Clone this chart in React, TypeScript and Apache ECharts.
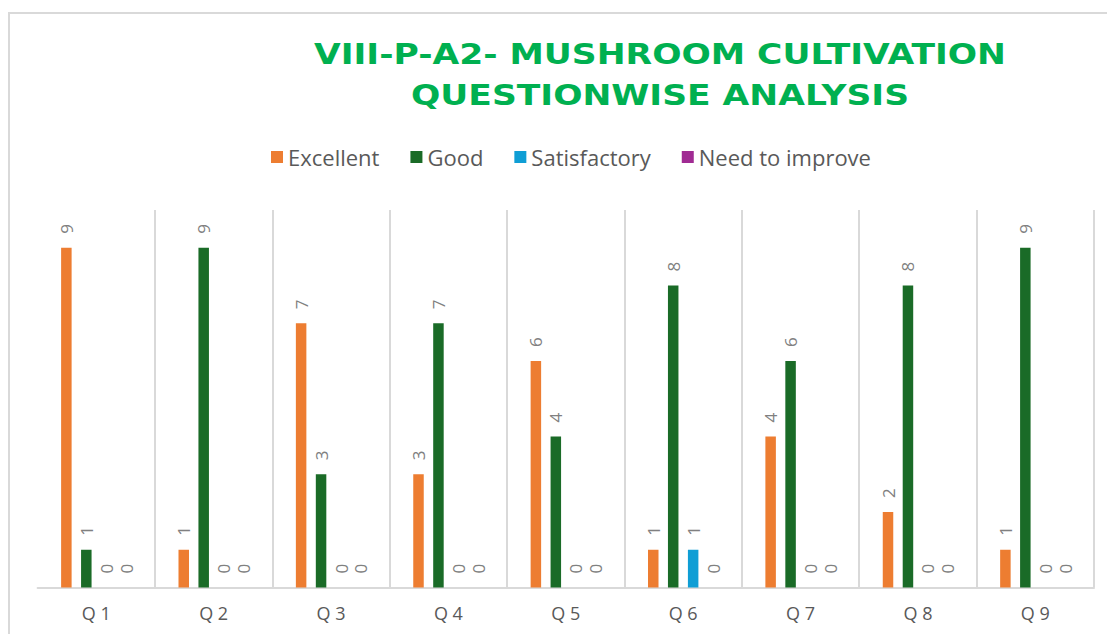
import React, { useEffect, useRef } from "react";
import * as echarts from "echarts";

const categories = ["Q 1", "Q 2", "Q 3", "Q 4", "Q 5", "Q 6", "Q 7", "Q 8", "Q 9"];
const seriesNames = ["Excellent", "Good", "Satisfactory", "Need to improve"];
const excellent = [9, 1, 7, 3, 6, 1, 4, 2, 1];
const good = [1, 9, 3, 7, 4, 8, 6, 8, 9];
const satisfactory = [0, 0, 0, 0, 0, 1, 0, 0, 0];
const needToImprove = [0, 0, 0, 0, 0, 0, 0, 0, 0];
const colors = ["#ED7D31", "#1A6B27", "#0F9ED5", "#A02B93"];
const titleLines = ["VIII-P-A2- MUSHROOM CULTIVATION", "QUESTIONWISE ANALYSIS"];

export default function App() {
  const ref = useRef<HTMLDivElement>(null);
  useEffect(() => {
    if (!ref.current) return;
    const chart = echarts.init(ref.current, null, { renderer: "svg" });
    const values = [excellent, good, satisfactory, needToImprove];
    chart.setOption({
      animation: false,
      backgroundColor: "#ffffff",
      graphic: [
        {
          type: "rect",
          shape: { x: 9, y: 13, width: 1200, height: 700 },
          style: { fill: "none", stroke: "#D9D9D9", lineWidth: 2 },
          silent: true,
        },
        {
          type: "text",
          x: 660,
          y: 33,
          scaleX: 1.19,
          style: {
            text: titleLines.join("\n"),
            textAlign: "center",
            fill: "#00B050",
            fontSize: 29,
            fontWeight: "bold",
            fontFamily: "'DejaVu Sans', sans-serif",
            lineHeight: 41,
          },
        },
      ],
      legend: {
        data: seriesNames,
        top: 141,
        left: 266,
        itemWidth: 12,
        itemHeight: 12,
        itemGap: 31,
        icon: "rect",
        textStyle: { fontSize: 22, color: "#595959", fontFamily: "'Open Sans', sans-serif" },
      },
      grid: { left: 37.6, right: 13, top: 210, bottom: 46.5, containLabel: false },
      xAxis: {
        type: "category",
        data: categories,
        axisLine: { lineStyle: { color: "#D9D9D9", width: 2 } },
        axisTick: { show: false },
        splitLine: { show: true, showMinLine: false, lineStyle: { color: "#D9D9D9", width: 2 } },
        axisLabel: { fontSize: 18, color: "#595959", margin: 16, fontFamily: "'Open Sans', sans-serif" },
      },
      yAxis: {
        type: "value",
        min: 0,
        max: 10,
        show: false,
        splitLine: { show: false },
      },
      series: seriesNames.map((name, i) => ({
        name,
        type: "bar",
        data: values[i],
        barWidth: 10.5,
        barGap: "90%",
        itemStyle: { color: colors[i] },
        label: {
          show: true,
          position: "top",
          rotate: 90,
          align: "left",
          verticalAlign: "middle",
          distance: 14,
          fontSize: 17,
          color: "#808080",
          fontFamily: "'Open Sans', sans-serif",
        },
      })),
    });
    return () => chart.dispose();
  }, []);
  return (
    <div
      ref={ref}
      style={{ position: "fixed", left: 0, top: 0, width: 1107, height: 634 }}
    />
  );
}
